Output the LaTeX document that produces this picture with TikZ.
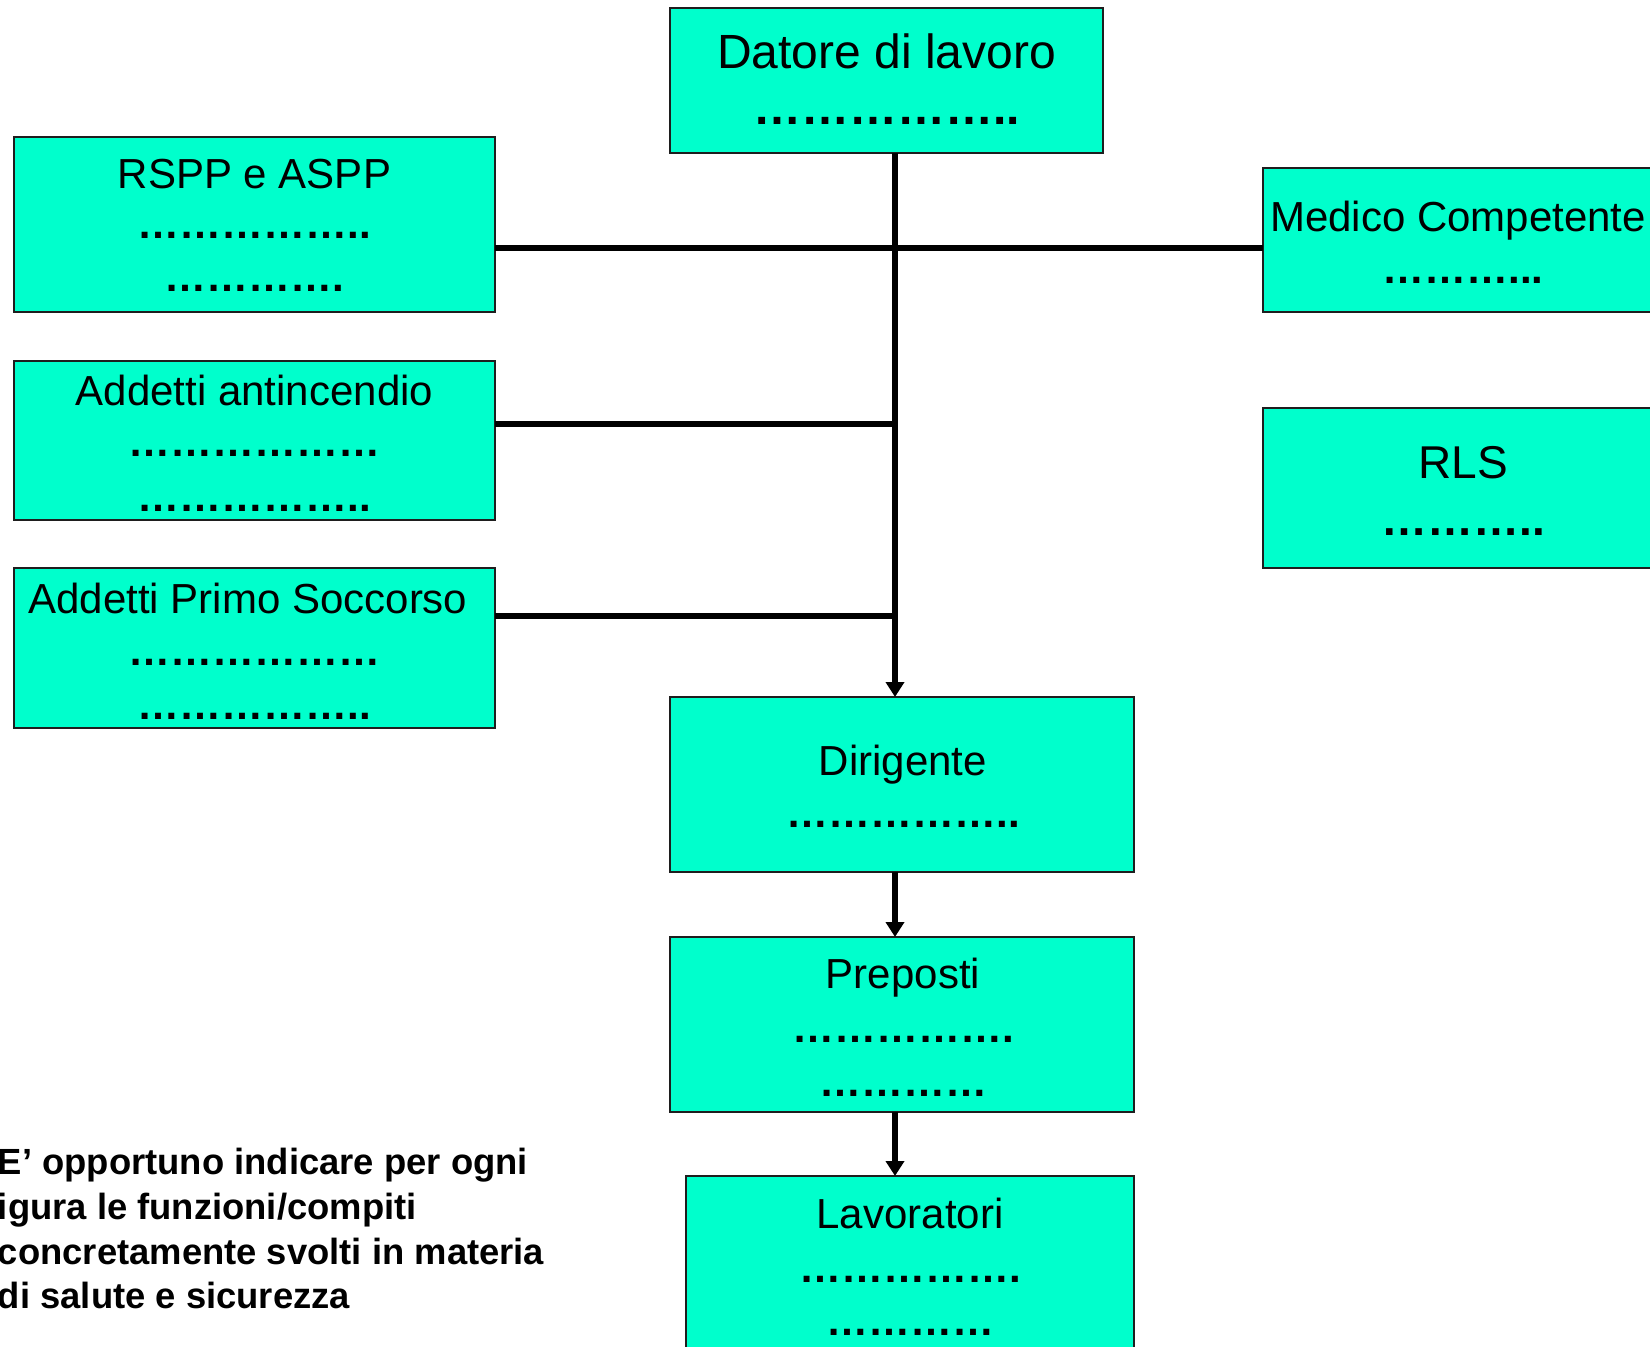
\documentclass[tikz,border=0pt]{standalone}
\usepackage{fontspec}
\setmainfont{Liberation Sans}
\usetikzlibrary{arrows.meta}
\definecolor{boxfill}{RGB}{0,255,204}
\definecolor{boxline}{RGB}{30,30,30}
\newcommand\dd{\char"2026\relax}
\newcommand\fsA{\fontsize{42}{50}\selectfont}
\newcommand\fsB{\fontsize{48}{58}\selectfont}
\newcommand\fsC{\fontsize{46}{55}\selectfont}
\newcommand\fsN{\fontsize{36.4}{44.7}\selectfont\bfseries}
\tikzset{
  orgbox/.style={draw=boxline, fill=boxfill, line width=2pt, rectangle, inner sep=0pt, outer sep=0pt},
  lbl/.style={inner sep=0pt, outer sep=0pt, anchor=base, text=black},
  dots/.style={lbl, font=\bfseries},
  conn/.style={line width=6pt, black},
  arr/.style={conn, -{Triangle[length=15pt,width=18pt]}}
}
\begin{document}
\begin{tikzpicture}[x=1pt,y=-1pt]
\useasboundingbox (0,0) rectangle (1650,1347);
\clip (0,0) rectangle (1650,1347);
\fill[white] (0,0) rectangle (1650,1347);

% boxes
\node[orgbox, minimum width=433pt, minimum height=145pt] (dat)  at (886.5,80.5) {};
\node[orgbox, minimum width=481pt, minimum height=175pt] (rspp) at (254.5,224.5) {};
\node[orgbox, minimum width=417pt, minimum height=144pt] (med)  at (1471.5,240) {};
\node[orgbox, minimum width=481pt, minimum height=159pt] (anti) at (254.5,440.5) {};
\node[orgbox, minimum width=417pt, minimum height=160pt] (rls)  at (1471.5,488) {};
\node[orgbox, minimum width=481pt, minimum height=160pt] (ps)   at (254.5,648) {};
\node[orgbox, minimum width=464pt, minimum height=175pt] (dir)  at (902,784.5) {};
\node[orgbox, minimum width=464pt, minimum height=175pt] (prep) at (902,1024.5) {};
\node[orgbox, minimum width=448pt, minimum height=184pt] (lav)  at (910,1268) {};

% texts
\node[lbl] (t-dat)  at (886.5,68) {\fsB Datore di lavoro};
\node[dots] (d-dat)  at (886.5,124) {\fsB\dd\dd\dd\dd\dd..};

\node[lbl] (t-rspp)  at (254.5,188) {\fsA RSPP e ASPP};
\node[dots] (d-rspp1) at (254.5,238) {\fsA\dd\dd\dd\dd\dd..};
\node[dots] (d-rspp2) at (254.5,291) {\fsA\dd\dd\dd\dd.};

\node[lbl] (t-med)  at (1458,231) {\fsA Medico Competente};
\node[dots] (d-med)  at (1463,283) {\fsA\dd\dd\dd...};

\node[lbl] (t-anti)  at (254.5,405) {\fsA Addetti antincendio};
\node[dots] (d-anti1) at (254.5,456) {\fsA\dd\dd\dd\dd\dd\dd};
\node[dots] (d-anti2) at (254.5,511) {\fsA\dd\dd\dd\dd\dd..};

\node[lbl] (t-rls)  at (1463,478) {\fsC RLS};
\node[dots] (d-rls)  at (1463,535) {\fsC\dd\dd\dd..};

\node[lbl] (t-ps)  at (248,613) {\fsA Addetti Primo Soccorso};
\node[dots] (d-ps1) at (254.5,665) {\fsA\dd\dd\dd\dd\dd\dd};
\node[dots] (d-ps2) at (254.5,719) {\fsA\dd\dd\dd\dd\dd..};

\node[lbl] (t-dir)  at (903,775) {\fsA Dirigente};
\node[dots] (d-dir)  at (903,827) {\fsA\dd\dd\dd\dd\dd..};

\node[lbl] (t-prep)  at (903,988) {\fsA Preposti};
\node[dots] (d-prep1) at (903,1042) {\fsA\dd\dd\dd\dd\dd.};
\node[dots] (d-prep2) at (903,1096) {\fsA\dd\dd\dd\dd};

\node[lbl] (t-lav)  at (910,1228) {\fsA Lavoratori};
\node[dots] (d-lav1) at (910,1282) {\fsA\dd\dd\dd\dd\dd.};
\node[dots] (d-lav2) at (910,1335) {\fsA\dd\dd\dd\dd};

% note
\node[lbl, anchor=base west] (n1) at (-2,1174) {\fsN E’ opportuno indicare per ogni};
\node[lbl, anchor=base west] (n2) at (-2,1219) {\fsN igura le funzioni/compiti};
\node[lbl, anchor=base west] (n3) at (-2,1264) {\fsN concretamente svolti in materia};
\node[lbl, anchor=base west] (n4) at (-2,1308) {\fsN di salute e sicurezza};

% connectors
\coordinate (trunk) at (895,0);
\coordinate (h1) at (0,248);
\coordinate (h2) at (0,424);
\coordinate (h3) at (0,616);
\draw[conn] (rspp.east |- h1) -- (med.west |- h1);
\draw[conn] (anti.east |- h2) -- (h2 -| trunk);
\draw[conn] (ps.east |- h3) -- (h3 -| trunk);
\draw[arr] (dat.south -| trunk) -- (dir.north -| trunk);
\draw[arr] (dir.south -| trunk) -- (prep.north -| trunk);
\draw[arr] (prep.south -| trunk) -- (lav.north -| trunk);
\end{tikzpicture}
\end{document}
